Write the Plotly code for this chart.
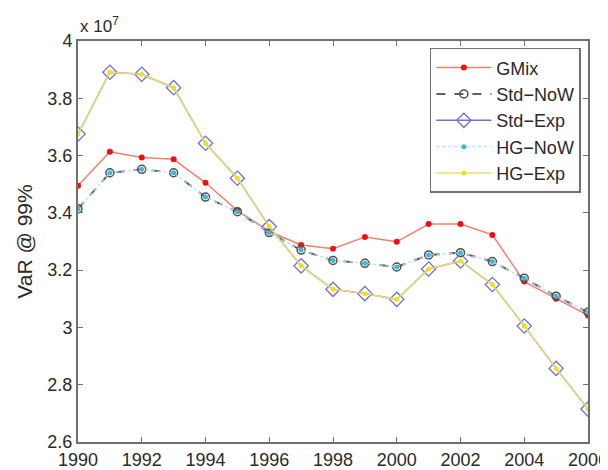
import plotly.graph_objects as go

years = list(range(1990, 2007))
gmix = [3.495, 3.613, 3.593, 3.587, 3.505, 3.408, 3.335, 3.288, 3.275, 3.316, 3.299, 3.361, 3.361, 3.323, 3.160, 3.100, 3.042]
std_now = [3.414, 3.540, 3.552, 3.540, 3.455, 3.404, 3.331, 3.270, 3.234, 3.224, 3.211, 3.253, 3.261, 3.230, 3.172, 3.109, 3.053]
std_exp = [3.675, 3.891, 3.884, 3.837, 3.643, 3.521, 3.352, 3.215, 3.133, 3.118, 3.098, 3.204, 3.232, 3.150, 3.005, 2.857, 2.715]
hg_now = std_now
hg_exp = std_exp
ytick_vals = [2.6, 2.8, 3.0, 3.2, 3.4, 3.6, 3.8, 4.0]
ytick_text = ["2.6", "2.8", "3", "3.2", "3.4", "3.6", "3.8", "4"]
xtick_vals = list(range(1990, 2007, 2))

FONT = "Liberation Sans, Arial, Helvetica"
TXT = "#2a2a2a"

fig = go.Figure()
fig.add_trace(go.Scatter(x=years, y=gmix, name="GMix", mode="lines+markers",
                         line=dict(color="#f08070", width=1.5),
                         marker=dict(symbol="circle", size=6, color="#f01010")))
fig.add_trace(go.Scatter(x=years, y=std_now, name="Std\u2212NoW", mode="lines+markers",
                         line=dict(color="#606060", width=2, dash="dash"),
                         marker=dict(symbol="circle-open", size=8, color="#505050", line=dict(width=1.5))))
fig.add_trace(go.Scatter(x=years, y=std_exp, name="Std\u2212Exp", mode="lines+markers",
                         line=dict(color="#7070d0", width=1.5),
                         marker=dict(symbol="diamond-open", size=11, color="#7070d0", line=dict(width=1.3))))
fig.add_trace(go.Scatter(x=years, y=hg_now, name="HG\u2212NoW", mode="lines+markers",
                         line=dict(color="#a8e4f0", width=1.2, dash="dot"),
                         marker=dict(symbol="circle", size=5, color="#40b8d8")))
fig.add_trace(go.Scatter(x=years, y=hg_exp, name="HG\u2212Exp", mode="lines+markers",
                         line=dict(color="#e8e070", width=1.5),
                         marker=dict(symbol="circle", size=5, color="#f0e020")))

axis_common = dict(showline=True, linecolor="#707070", linewidth=2, mirror="ticks",
                   ticks="inside", ticklen=5, tickcolor="#707070", tickwidth=1,
                   showgrid=False, zeroline=False, ticklabeloverflow="allow",
                   automargin=False,
                   tickfont=dict(family=FONT, size=18, color=TXT))

# page body has an 8px margin, so the figure is placed at (8, 8)
fig.update_layout(
    width=600, height=462,
    margin=dict(l=70, r=20, t=33, b=28),
    plot_bgcolor="white", paper_bgcolor="white",
    xaxis=dict(range=[1990, 2006], tickvals=xtick_vals, **axis_common),
    yaxis=dict(range=[2.6, 4.0], tickvals=ytick_vals, ticktext=ytick_text,
               title=dict(text="VaR @ 99%", font=dict(family=FONT, size=21, color=TXT), standoff=9),
               **axis_common),
    legend=dict(x=0.986, y=0.983, xanchor="right", yanchor="top",
                bgcolor="white", bordercolor="#707070", borderwidth=1.5,
                font=dict(family=FONT, size=18, color=TXT),
                itemwidth=55, tracegroupgap=0),
    showlegend=True,
)
fig.add_annotation(x=0, y=1, xref="paper", yref="paper", xanchor="left", yanchor="bottom",
                   text="x 10<sup>7</sup>", showarrow=False, yshift=3,
                   font=dict(family=FONT, size=17, color=TXT))

fig.write_html("out.html")
